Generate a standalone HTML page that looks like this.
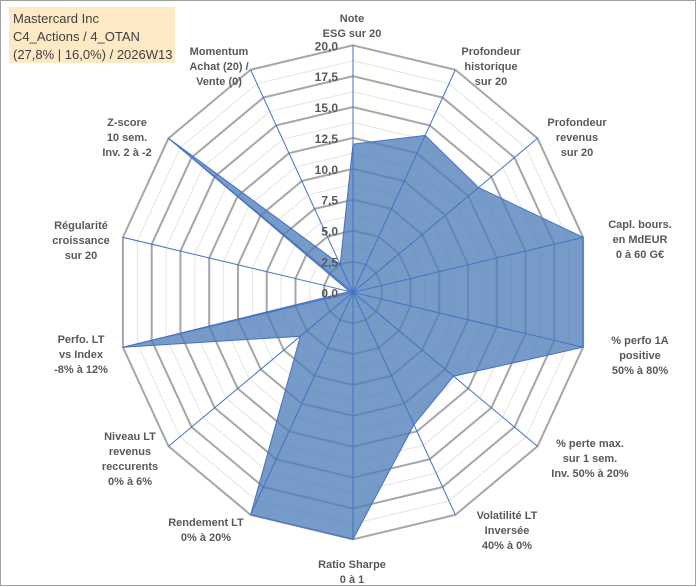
<!DOCTYPE html>
<html><head><meta charset="utf-8"><style>
body{margin:0;background:#fff;}
svg{display:block;font-family:"Liberation Sans",sans-serif;}
.lbl{font-size:11px;font-weight:bold;fill:#595959;text-anchor:middle;}
.tick{font-size:12px;font-weight:bold;fill:#595959;text-anchor:end;}
</style></head><body>
<svg id="chart" width="700" height="587">
<rect x="0.5" y="0.5" width="695" height="585" fill="#fff" stroke="#a0a0a0"/>
<rect x="9" y="7" width="166" height="56" fill="#fde9c4"/>
<text x="13" y="23" font-size="13" fill="#404040">Mastercard Inc</text>
<text x="13" y="41" font-size="13" fill="#404040">C4_Actions / 4_OTAN</text>
<text x="13" y="59" font-size="13" fill="#404040">(27,8% | 16,0%) / 2026W13</text>
<g id="grid"></g><g id="series"></g><g id="axes"></g><g id="labels"></g>
</svg>
<script>
const categories=[["Note","ESG sur 20"],["Profondeur","historique","sur 20"],["Profondeur","revenus","sur 20"],["Capl. bours.","en MdEUR","0 à 60 G€"],["% perfo 1A","positive","50% à 80%"],["% perte max.","sur 1 sem.","Inv. 50% à 20%"],["Volatilité LT","Inversée","40% à 0%"],["Ratio Sharpe","0 à 1"],["Rendement LT","0% à 20%"],["Niveau LT","revenus","reccurents","0% à 6%"],["Perfo. LT","vs Index","-8% à 12%"],["Régularité","croissance","sur 20"],["Z-score","10 sem.","Inv. 2 à -2"],["Momentum","Achat (20) /","Vente (0)"]];
const values=[12,14.1,13.6,20,20,10.9,11.9,20,20,5.7,20,0.3,20,2.5];
const ticks=[0,2.5,5,7.5,10,12.5,15,17.5,20];
const tickLabels=["0,0","2,5","5,0","7,5","10,0","12,5","15,0","17,5","20,0"];
const cx=353,cy=292.3,RX=236,RY=247,MAX=20,N=categories.length;
const NS="http://www.w3.org/2000/svg";
function pt(i,v){const a=i*2*Math.PI/N;return [cx+Math.sin(a)*RX*v/MAX,cy-Math.cos(a)*RY*v/MAX];}
function mk(tag,attrs,parent){const e=document.createElementNS(NS,tag);for(const k in attrs)e.setAttribute(k,attrs[k]);document.getElementById(parent).appendChild(e);return e;}
// minor rings
for(let k=1;k<=16;k++){const v=k*1.25;const pts=categories.map((c,i)=>pt(i,v).join(",")).join(" ");
const major=(k%2===0);
const e=mk("polygon",{points:pts,fill:"none",stroke:major?"#a6a6a6":"#e4e4e4","stroke-width":major?2:1},"grid");

}
// series
const sp=values.map((v,i)=>pt(i,v).join(",")).join(" ");
const s=mk("polygon",{points:sp,fill:"#4f7fb8","fill-opacity":"0.78",stroke:"#4472c4","stroke-width":1},"series");


// axes
categories.forEach((c,i)=>{const p=pt(i,MAX);const l=mk("line",{x1:cx,y1:cy,x2:p[0],y2:p[1],stroke:"#4472c4","stroke-width":1},"axes");

});
// ticks
ticks.forEach((t,k)=>{const y=cy-RY*t/MAX;const e=mk("text",{x:cx-15,y:y+5,class:"tick"},"labels");e.textContent=tickLabels[k];

});
// category labels
const lpos=[[352,13],[491,46],[577,117],[640,219],[640,335],[590,438],[507,510],[352,559],[206,517],[130,431],[81,334],[81,220],[127,117],[219,46]];
categories.forEach((c,i)=>{const g=mk("text",{x:lpos[i][0],y:lpos[i][1]+9,class:"lbl"},"labels");


c.forEach((line,j)=>{const ts=document.createElementNS(NS,"tspan");ts.setAttribute("x",lpos[i][0]);ts.setAttribute("dy",j?15:0);ts.textContent=line;g.appendChild(ts);});});
</script>
</body></html>
